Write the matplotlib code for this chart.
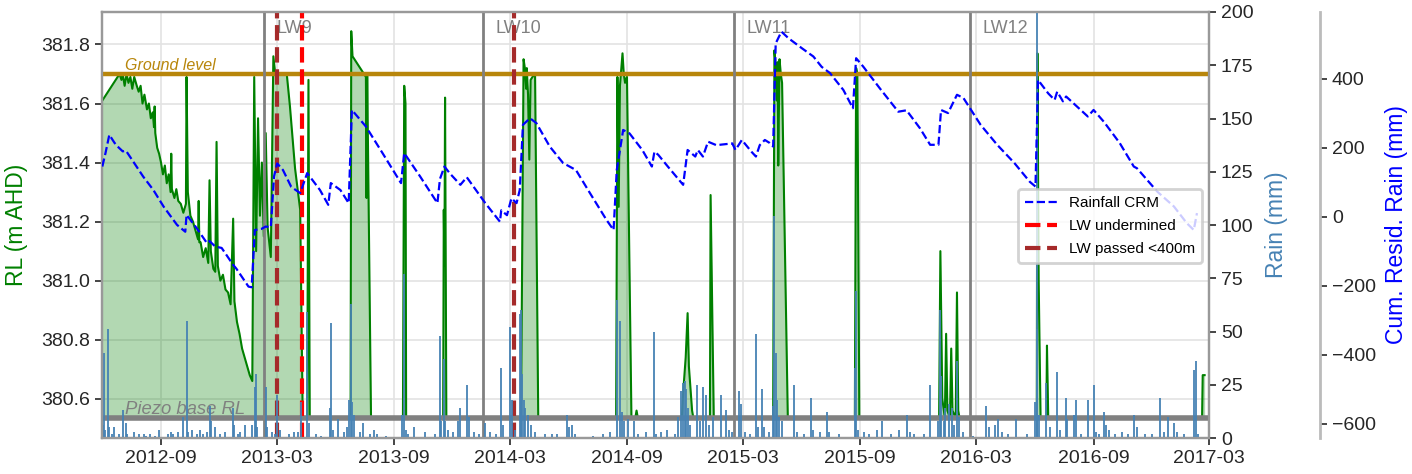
import matplotlib
matplotlib.use("Agg")
import matplotlib.pyplot as plt
import matplotlib.dates as mdates
import pandas as pd

plt.rcParams['font.family'] = ['Liberation Sans', 'DejaVu Sans']

# ---------------- data ----------------
base_rl = 380.535
ground_rl = 381.70

level_dates = [
    "2012-06-01", "2012-06-25", "2012-06-28", "2012-07-01", "2012-07-03", "2012-07-06", "2012-07-09",
    "2012-07-12", "2012-07-15", "2012-07-18", "2012-07-21", "2012-07-25", "2012-07-28", "2012-07-31",
    "2012-08-03", "2012-08-06", "2012-08-10", "2012-08-13", "2012-08-16", "2012-08-19", "2012-08-21",
    "2012-08-22", "2012-08-23", "2012-08-26", "2012-08-29", "2012-09-01", "2012-09-04", "2012-09-07",
    "2012-09-10", "2012-09-13", "2012-09-16", "2012-09-17", "2012-09-18", "2012-09-22", "2012-09-25",
    "2012-09-28", "2012-10-02", "2012-10-06", "2012-10-10", "2012-10-11", "2012-10-13", "2012-10-17",
    "2012-10-21", "2012-10-25", "2012-10-29", "2012-10-30", "2012-10-31", "2012-11-02", "2012-11-06",
    "2012-11-10", "2012-11-14", "2012-11-16", "2012-11-18", "2012-11-22", "2012-11-25", "2012-11-27",
    "2012-11-29", "2012-12-03", "2012-12-07", "2012-12-11", "2012-12-15", "2012-12-19", "2012-12-23",
    "2012-12-25", "2012-12-29", "2013-01-02", "2013-01-06", "2013-01-10", "2013-01-14", "2013-01-18",
    "2013-01-22", "2013-01-25", "2013-01-28", "2013-01-31", "2013-02-03", "2013-02-06", "2013-02-09",
    "2013-02-12", "2013-02-15", "2013-02-18", "2013-02-20", "2013-02-24", "2013-02-27", "2013-03-05",
    "2013-03-12", "2013-03-17", "2013-03-22", "2013-03-30", "2013-04-07", "2013-04-11", "2013-04-18",
    "2013-04-20", "2013-04-22", "2013-06-25", "2013-06-26", "2013-06-28", "2013-07-04", "2013-07-10",
    "2013-07-16", "2013-07-19", "2013-07-20", "2013-07-21", "2013-07-27", "2013-09-15", "2013-09-17",
    "2013-09-19", "2013-09-20", "2013-11-17", "2013-11-18", "2013-11-19", "2013-11-20", "2013-11-22",
    "2014-03-19", "2014-03-23", "2014-03-25", "2014-03-27", "2014-03-28", "2014-03-30", "2014-04-01",
    "2014-04-03", "2014-04-06", "2014-04-10", "2014-04-15", "2014-08-15", "2014-08-17", "2014-08-19",
    "2014-08-21", "2014-08-25", "2014-08-27", "2014-08-29", "2014-09-01", "2014-09-08", "2014-09-14",
    "2014-09-16", "2014-09-18", "2014-11-26", "2014-11-28", "2014-12-02", "2014-12-05", "2014-12-07",
    "2014-12-10", "2014-12-12", "2014-12-14", "2015-01-09", "2015-01-10", "2015-01-12", "2015-01-15",
    "2015-04-18", "2015-04-20", "2015-04-22", "2015-04-24", "2015-04-25", "2015-04-26", "2015-04-28",
    "2015-04-30", "2015-05-02", "2015-05-11", "2015-08-24", "2015-08-26", "2015-08-28", "2015-08-31",
    "2016-01-03", "2016-01-05", "2016-01-08", "2016-01-12", "2016-01-14", "2016-01-16", "2016-01-20",
    "2016-01-22", "2016-01-24", "2016-01-29", "2016-01-31", "2016-02-02", "2016-02-04", "2016-06-04",
    "2016-06-05", "2016-06-07", "2016-06-10", "2016-06-19", "2016-06-20", "2016-06-22", "2017-02-18",
    "2017-02-19", "2017-02-22",
]
level_values = [
    381.61, 381.69, 381.70, 381.68, 381.70, 381.66, 381.70,
    381.67, 381.69, 381.65, 381.69, 381.66, 381.64, 381.66,
    381.60, 381.63, 381.58, 381.60, 381.55, 381.57, 381.52,
    381.59, 381.50, 381.45, 381.43, 381.40, 381.36, 381.39,
    381.33, 381.36, 381.30, 381.43, 381.31, 381.28, 381.31,
    381.27, 381.26, 381.23, 381.26, 381.69, 381.30, 381.22,
    381.20, 381.17, 381.14, 381.27, 381.13, 381.13, 381.08,
    381.11, 381.06, 381.34, 381.10, 381.04, 381.03, 381.47,
    381.05, 381.00, 381.02, 380.97, 380.96, 380.92, 381.21,
    380.93, 380.86, 380.82, 380.77, 380.74, 380.71, 380.68,
    380.66, 381.69, 381.10, 381.55, 381.22, 381.40, 381.15,
    381.50, 381.18, 381.12, 381.08, 381.76, 381.70, 381.70,
    381.70, 381.70, 381.59, 381.38, 381.24, 380.535, 380.535,
    381.68, 380.535, 380.535, 381.845, 381.76, 381.74, 381.72,
    381.70, 381.69, 381.28, 381.70, 380.535, 380.535, 381.66,
    381.60, 380.535, 380.535, 381.24, 381.05, 381.62, 380.535,
    380.535, 381.75, 381.72, 381.65, 381.72, 381.63, 381.41,
    381.68, 381.69, 381.70, 380.535, 380.535, 381.69, 381.25,
    381.66, 381.77, 381.70, 381.67, 381.69, 380.535, 380.535,
    380.56, 380.535, 380.535, 380.62, 380.74, 380.89, 380.71,
    380.62, 380.56, 380.535, 380.535, 381.29, 380.99, 380.535,
    380.535, 381.78, 381.73, 381.61, 381.74, 381.39, 381.75,
    381.70, 381.67, 380.535, 380.535, 381.72, 381.70, 380.535,
    380.535, 381.10, 380.60, 380.535, 380.82, 380.56, 380.535,
    380.77, 380.56, 380.535, 380.96, 380.56, 380.535, 380.535,
    381.77, 381.00, 380.535, 380.535, 380.78, 380.535, 380.535,
    380.68, 380.68,
]

rain_dates = [
    "2012-06-02", "2012-06-04", "2012-06-06", "2012-06-10", "2012-06-12", "2012-06-16", "2012-06-20",
    "2012-06-27", "2012-07-04", "2012-07-08", "2012-07-10", "2012-07-21", "2012-07-29", "2012-08-05",
    "2012-08-09", "2012-08-14", "2012-08-22", "2012-08-29", "2012-09-12", "2012-09-17", "2012-09-20",
    "2012-09-28", "2012-10-05", "2012-10-11", "2012-10-14", "2012-10-19", "2012-10-27", "2012-11-01",
    "2012-11-06", "2012-11-12", "2012-11-16", "2012-11-19", "2012-11-25", "2012-12-02", "2012-12-10",
    "2012-12-23", "2012-12-25", "2012-12-30", "2013-01-03", "2013-01-10", "2013-01-21", "2013-01-26",
    "2013-01-28", "2013-01-30", "2013-02-12", "2013-02-14", "2013-02-22", "2013-02-27", "2013-03-01",
    "2013-03-06", "2013-03-20", "2013-03-28", "2013-04-04", "2013-04-09", "2013-04-18", "2013-04-21",
    "2013-05-02", "2013-05-10", "2013-05-23", "2013-05-25", "2013-05-28", "2013-06-05", "2013-06-14",
    "2013-06-20", "2013-06-23", "2013-06-25", "2013-06-27", "2013-06-30", "2013-07-10", "2013-07-15",
    "2013-07-25", "2013-08-01", "2013-08-06", "2013-08-20", "2013-09-14", "2013-09-17", "2013-09-20",
    "2013-09-23", "2013-10-03", "2013-10-20", "2013-11-05", "2013-11-12", "2013-11-14", "2013-11-18",
    "2013-11-20", "2013-11-25", "2013-12-02", "2013-12-10", "2013-12-14", "2013-12-24", "2013-12-27",
    "2014-01-05", "2014-01-12", "2014-01-22", "2014-01-30", "2014-02-08", "2014-02-16", "2014-02-19",
    "2014-03-01", "2014-03-05", "2014-03-10", "2014-03-17", "2014-03-19", "2014-03-21", "2014-03-23",
    "2014-03-26", "2014-03-30", "2014-04-03", "2014-04-10", "2014-04-25", "2014-05-06", "2014-05-15",
    "2014-05-30", "2014-06-02", "2014-06-07", "2014-06-12", "2014-07-10", "2014-07-25", "2014-08-05",
    "2014-08-16", "2014-08-21", "2014-08-24", "2014-08-28", "2014-09-02", "2014-09-12", "2014-09-18",
    "2014-10-01", "2014-10-13", "2014-10-16", "2014-10-25", "2014-11-02", "2014-11-15", "2014-11-20",
    "2014-11-24", "2014-11-27", "2014-12-01", "2014-12-03", "2014-12-05", "2014-12-08", "2014-12-19",
    "2014-12-24", "2014-12-29", "2015-01-03", "2015-01-07", "2015-01-14", "2015-01-26", "2015-02-03",
    "2015-02-08", "2015-02-13", "2015-02-24", "2015-02-27", "2015-03-05", "2015-03-12", "2015-03-22",
    "2015-03-25", "2015-03-31", "2015-04-04", "2015-04-12", "2015-04-18", "2015-04-20", "2015-04-22",
    "2015-04-24", "2015-04-27", "2015-05-02", "2015-05-21", "2015-05-25", "2015-06-05", "2015-06-16",
    "2015-06-20", "2015-07-01", "2015-07-12", "2015-07-15", "2015-07-30", "2015-08-25", "2015-08-26",
    "2015-08-29", "2015-09-07", "2015-09-15", "2015-09-28", "2015-10-06", "2015-10-20", "2015-11-01",
    "2015-11-14", "2015-11-18", "2015-11-25", "2015-12-10", "2015-12-20", "2016-01-01", "2016-01-04",
    "2016-01-06", "2016-01-10", "2016-01-13", "2016-01-18", "2016-01-23", "2016-01-26", "2016-01-31",
    "2016-02-03", "2016-02-10", "2016-02-25", "2016-03-17", "2016-03-21", "2016-03-30", "2016-04-05",
    "2016-04-10", "2016-04-20", "2016-05-02", "2016-05-20", "2016-06-01", "2016-06-04", "2016-06-05",
    "2016-06-07", "2016-06-19", "2016-06-25", "2016-07-06", "2016-07-10", "2016-07-20", "2016-07-22",
    "2016-08-01", "2016-08-04", "2016-08-12", "2016-08-23", "2016-09-01", "2016-09-05", "2016-09-10",
    "2016-09-17", "2016-09-20", "2016-09-25", "2016-10-05", "2016-10-15", "2016-10-25", "2016-11-04",
    "2016-11-08", "2016-11-20", "2016-12-01", "2016-12-14", "2016-12-20", "2016-12-27", "2017-01-05",
    "2017-01-10", "2017-01-20", "2017-02-06", "2017-02-08", "2017-02-12",
]
rain_mm = [
    6, 40, 4, 51, 5, 2, 5,
    2, 13, 7, 2, 3, 2, 2,
    1, 2, 1, 4, 2, 3, 2,
    3, 10, 55, 3, 4, 2, 4,
    2, 3, 15, 8, 5, 2, 3,
    14, 6, 2, 3, 6, 6, 24,
    30, 5, 24, 5, 3, 2, 20,
    4, 2, 3, 3, 17, 59, 7,
    2, 1, 14, 54, 4, 9, 3,
    5, 18, 63, 17, 11, 3, 7,
    2, 4, 2, 1, 11, 77, 4,
    2, 5, 3, 2, 48, 8, 37,
    8, 4, 3, 8, 14, 25, 10,
    3, 2, 7, 3, 2, 33, 6,
    52, 18, 4, 58, 60, 30, 18,
    14, 11, 6, 3, 2, 2, 2,
    11, 5, 6, 2, 1, 2, 3,
    65, 55, 12, 8, 9, 8, 2,
    3, 50, 2, 3, 4, 2, 10,
    22, 26, 27, 23, 14, 6, 25,
    8, 24, 20, 6, 10, 20, 13,
    4, 3, 22, 16, 3, 2, 49,
    5, 23, 5, 3, 15, 104, 40,
    18, 10, 8, 25, 3, 2, 19,
    4, 3, 12, 3, 2, 33, 69,
    4, 3, 2, 4, 8, 2, 4,
    11, 3, 2, 2, 25, 8, 60,
    29, 8, 14, 16, 14, 6, 36,
    10, 3, 1, 15, 5, 6, 9,
    3, 2, 9, 2, 17, 51, 235,
    11, 26, 5, 31, 4, 19, 9,
    11, 18, 2, 18, 25, 3, 2,
    12, 6, 4, 2, 3, 2, 11,
    5, 2, 2, 19, 3, 10, 7,
    3, 2, 32, 36, 2,
]

crm_dates = [
    "2012-06-01", "2012-06-06", "2012-06-12", "2012-06-20", "2012-06-25", "2012-07-03", "2012-07-08",
    "2012-07-16", "2012-08-04", "2012-08-20", "2012-09-05", "2012-09-26", "2012-10-09", "2012-10-11",
    "2012-10-27", "2012-11-12", "2012-11-16", "2012-11-25", "2012-12-05", "2012-12-16", "2012-12-23",
    "2012-12-28", "2013-01-16", "2013-01-21", "2013-01-26", "2013-02-05", "2013-02-12", "2013-02-20",
    "2013-02-25", "2013-03-02", "2013-03-11", "2013-03-24", "2013-04-07", "2013-04-18", "2013-05-08",
    "2013-05-21", "2013-05-25", "2013-06-09", "2013-06-22", "2013-06-27", "2013-07-19", "2013-08-14",
    "2013-09-12", "2013-09-17", "2013-10-12", "2013-11-08", "2013-11-12", "2013-11-19", "2013-11-28",
    "2013-12-14", "2013-12-24", "2014-01-22", "2014-02-14", "2014-02-16", "2014-02-25", "2014-03-04",
    "2014-03-12", "2014-03-17", "2014-03-22", "2014-04-02", "2014-04-12", "2014-05-03", "2014-05-24",
    "2014-06-13", "2014-07-05", "2014-07-31", "2014-08-11", "2014-08-16", "2014-08-26", "2014-09-05",
    "2014-09-25", "2014-10-10", "2014-10-14", "2014-10-20", "2014-11-04", "2014-11-28", "2014-12-05",
    "2014-12-17", "2014-12-21", "2014-12-29", "2015-01-06", "2015-01-19", "2015-02-13", "2015-02-18",
    "2015-02-28", "2015-03-15", "2015-03-22", "2015-03-28", "2015-04-05", "2015-04-12", "2015-04-18",
    "2015-04-22", "2015-05-01", "2015-05-12", "2015-06-02", "2015-06-20", "2015-07-03", "2015-07-16",
    "2015-08-06", "2015-08-21", "2015-08-26", "2015-09-06", "2015-10-02", "2015-10-31", "2015-11-13",
    "2015-12-04", "2015-12-20", "2016-01-02", "2016-01-06", "2016-01-17", "2016-01-31", "2016-02-10",
    "2016-03-08", "2016-04-03", "2016-04-30", "2016-05-24", "2016-06-02", "2016-06-06", "2016-06-22",
    "2016-07-02", "2016-07-06", "2016-07-15", "2016-07-20", "2016-08-23", "2016-09-01", "2016-09-17",
    "2016-10-12", "2016-11-03", "2016-11-08", "2016-12-10", "2017-01-05", "2017-01-25", "2017-02-05",
    "2017-02-10",
]
crm_values = [
    146, 185, 238, 215, 204, 190, 192,
    170, 117, 78, 30, -23, -43, 6,
    -33, -76, -70, -86, -90, -120, -139,
    -150, -202, -204, -38, -35, -28, -30,
    117, 155, 136, 87, 69, 127, 78,
    35, 98, 78, 40, 310, 262, 185,
    98, 185, 117, 40, 110, 146, 125,
    93, 115, 40, -14, 19, 5, 54,
    40, 78, 267, 286, 272, 204, 156,
    136, 69, -9, -38, 136, 252, 242,
    194, 146, 189, 180, 146, 93, 194,
    175, 194, 175, 218, 208, 213, 194,
    223, 189, 175, 208, 223, 215, 204,
    503, 537, 518, 489, 465, 435, 417,
    368, 315, 460, 436, 373, 305, 309,
    257, 209, 209, 310, 301, 354, 345,
    267, 209, 156, 102, 88, 397, 358,
    339, 363, 335, 349, 291, 310, 276,
    214, 146, 141, 73, 30, -18, -38,
    11,
]

lw_names = ["LW9", "LW10", "LW11", "LW12"]
lw_start_dates = ["2013-02-10", "2014-01-19", "2015-02-16", "2016-02-20"]
lw_undermined_dates = ["2013-04-10"]
lw_passed_dates = ["2013-03-01", "2014-03-08"]

x_start, x_end = "2012-05-31", "2017-03-01"

# ---------------- figure ----------------
fig = plt.figure(figsize=(14.12, 4.74), dpi=100)
ax = fig.add_axes([0.072, 0.0759, 0.7843, 0.8988])
ax2 = ax.twinx()
ax3 = ax.twinx()

tick_col = '#262626'
frame_col = '#999999'

ld = pd.to_datetime(level_dates)
ax.fill_between(ld, level_values, base_rl, color='green', alpha=0.3, lw=0, zorder=1)
ax.plot(ld, level_values, color='green', lw=1.5, zorder=2)
ax.axhline(ground_rl, color='darkgoldenrod', lw=3.2, zorder=3)
ax.axhline(base_rl, color='gray', lw=4, zorder=3)
ax.text(pd.Timestamp("2012-07-06"), 381.713, "Ground level", color='darkgoldenrod',
        style='italic', fontsize=11.5, va='baseline', zorder=4)
ax.text(pd.Timestamp("2012-07-06"), 380.547, "Piezo base RL", color='gray',
        style='italic', fontsize=13.3, va='baseline', zorder=4)

for name, d in zip(lw_names, lw_start_dates):
    t = pd.Timestamp(d)
    ax.axvline(t, color='gray', lw=2, zorder=3)
    ax.annotate(name, xy=(t, 0.951), xycoords=('data', 'axes fraction'),
                xytext=(9, 0), textcoords='offset points', color='gray',
                fontsize=13, va='baseline', ha='left', zorder=4)

h_und = None
for d in lw_undermined_dates:
    h_und = ax.axvline(pd.Timestamp(d), color='red', lw=3, ls='--', zorder=5,
                       label='LW undermined')
h_pass = None
for d in lw_passed_dates:
    h_pass = ax.axvline(pd.Timestamp(d), color='brown', lw=3, ls='--', zorder=5,
                        label='LW passed <400m')

ax.set_xlim(pd.Timestamp(x_start), pd.Timestamp(x_end))
ax.set_ylim(380.467, 381.91)
ax.set_yticks([380.6, 380.8, 381.0, 381.2, 381.4, 381.6, 381.8])
ax.xaxis.set_major_locator(mdates.MonthLocator(bymonth=[3, 9]))
ax.xaxis.set_major_formatter(mdates.DateFormatter('%Y-%m'))
ax.grid(True, color='#e3e3e3', lw=1.2, zorder=0)
ax.set_axisbelow(True)
ax.set_ylabel('RL (m AHD)', color='green', fontsize=16.5)
ax.yaxis.set_label_coords(-0.0666, 0.5)

# rain
ax2.vlines(pd.to_datetime(rain_dates), 0, rain_mm, color='steelblue', lw=1.3)
ax2.set_ylim(0, 200)
ax2.set_yticks(range(0, 201, 25))
ax2.set_ylabel('Rain (mm)', color='steelblue', fontsize=16.5)
ax2.yaxis.set_label_coords(1.0506, 0.5)

# cumulative residual rainfall
h_crm, = ax3.plot(pd.to_datetime(crm_dates), crm_values, color='blue', ls='--', lw=1.6,
                  label='Rainfall CRM')
ax3.set_ylim(-641, 594)
ax3.set_yticks([-600, -400, -200, 0, 200, 400])
ax3.spines['right'].set_position(('axes', 1.1003))
ax3.set_ylabel('Cum. Resid. Rain (mm)', color='blue', fontsize=16.5)
ax3.yaxis.set_label_coords(1.159, 0.5)

for a in (ax, ax2, ax3):
    for s in a.spines.values():
        s.set_color(frame_col)
        s.set_linewidth(1.6)
    a.tick_params(labelsize=14, colors=tick_col, length=5, width=1.2, direction='out')
for s in ('left', 'top', 'bottom'):
    ax3.spines[s].set_visible(False)
ax3.spines['right'].set_color('#bbbbbb')
ax3.spines['right'].set_linewidth(2)

leg = ax3.legend(handles=[h_crm, h_und, h_pass], loc='upper right',
                 bbox_to_anchor=(0.9937, 0.5845), fontsize=11, framealpha=0.8,
                 edgecolor='#c8c8c8', handlelength=2.1, handletextpad=0.8,
                 borderpad=0.45, labelspacing=0.6, borderaxespad=0.0)
leg.get_frame().set_linewidth(2)

fig.savefig('out.png', dpi=100)
